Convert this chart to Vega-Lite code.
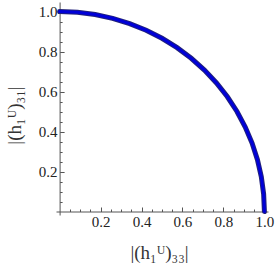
{
  "$schema": "https://vega.github.io/schema/vega-lite/v6.json",
  "width": 212,
  "height": 213,
  "autosize": "none",
  "padding": {"left": 56, "top": 2, "right": 8, "bottom": 50},
  "background": "white",
  "config": {"view": {"stroke": null}, "axis": {"grid": false}},
  "data": {"values": [
    {"t": 0, "x": 1.0, "y": 0.0},
    {"t": 1, "x": 0.9962, "y": 0.0872},
    {"t": 2, "x": 0.9848, "y": 0.1736},
    {"t": 3, "x": 0.9659, "y": 0.2588},
    {"t": 4, "x": 0.9397, "y": 0.342},
    {"t": 5, "x": 0.9063, "y": 0.4226},
    {"t": 6, "x": 0.866, "y": 0.5},
    {"t": 7, "x": 0.8192, "y": 0.5736},
    {"t": 8, "x": 0.766, "y": 0.6428},
    {"t": 9, "x": 0.7071, "y": 0.7071},
    {"t": 10, "x": 0.6428, "y": 0.766},
    {"t": 11, "x": 0.5736, "y": 0.8192},
    {"t": 12, "x": 0.5, "y": 0.866},
    {"t": 13, "x": 0.4226, "y": 0.9063},
    {"t": 14, "x": 0.342, "y": 0.9397},
    {"t": 15, "x": 0.2588, "y": 0.9659},
    {"t": 16, "x": 0.1736, "y": 0.9848},
    {"t": 17, "x": 0.0872, "y": 0.9962},
    {"t": 18, "x": 0.0, "y": 1.0}
  ]},
  "resolve": {"axis": {"x": "independent", "y": "independent"}},
  "layer": [
    {
      "mark": {"type": "line", "color": "#22227a", "strokeWidth": 5, "strokeCap": "round"},
      "encoding": {
        "x": {"field": "x", "type": "quantitative", "scale": {"domain": [-0.0175, 1.0175], "nice": false, "zero": false},
          "axis": {"orient": "bottom", "offset": -3.5, "values": [0.05,0.1,0.15,0.25,0.3,0.35,0.45,0.5,0.55,0.65,0.7,0.75,0.85,0.9,0.95], "labels": false, "domain": false, "tickSize": -2.5, "tickColor": "#555", "title": null}},
        "y": {"field": "y", "type": "quantitative", "scale": {"domain": [-0.0175, 1.0475], "nice": false, "zero": false},
          "axis": {"orient": "left", "offset": -3.6, "values": [0.05,0.1,0.15,0.25,0.3,0.35,0.45,0.5,0.55,0.65,0.7,0.75,0.85,0.9,0.95], "labels": false, "domain": false, "tickSize": -2.5, "tickColor": "#555", "title": null}},
        "order": {"field": "t", "type": "quantitative"}
      }
    },
    {
      "mark": {"type": "line", "color": "#0000d8", "strokeWidth": 3, "strokeCap": "round"},
      "encoding": {
        "x": {"field": "x", "type": "quantitative", "scale": {"domain": [-0.0175, 1.0175], "nice": false, "zero": false},
          "axis": {"orient": "bottom", "offset": -3.5, "values": [0.2, 0.4, 0.6, 0.8, 1.0], "format": ".1f", "tickSize": -4.5, "tickColor": "#555", "domainColor": "#555", "labelPadding": 7, "labelFont": "Liberation Serif", "labelFontSize": 15, "labelColor": "#222", "title": "|(h\u2081\u1d41)\u2083\u2083|", "titleFont": "Liberation Serif", "titleFontSize": 19, "titleFontWeight": "normal", "titleColor": "#333", "titlePadding": 14, "titleX": 103}},
        "y": {"field": "y", "type": "quantitative", "scale": {"domain": [-0.0175, 1.0475], "nice": false, "zero": false},
          "axis": {"orient": "left", "offset": -3.6, "values": [0.2, 0.4, 0.6, 0.8, 1.0], "format": ".1f", "tickSize": -4.5, "tickColor": "#555", "domainColor": "#555", "labelPadding": 7, "labelFont": "Liberation Serif", "labelFontSize": 15, "labelColor": "#222", "title": "|(h\u2081\u1d41)\u2083\u2081|", "titleFont": "Liberation Serif", "titleFontSize": 19, "titleFontWeight": "normal", "titleColor": "#333", "titlePadding": 14, "titleY": 113}},
        "order": {"field": "t", "type": "quantitative"}
      }
    }
  ]
}
